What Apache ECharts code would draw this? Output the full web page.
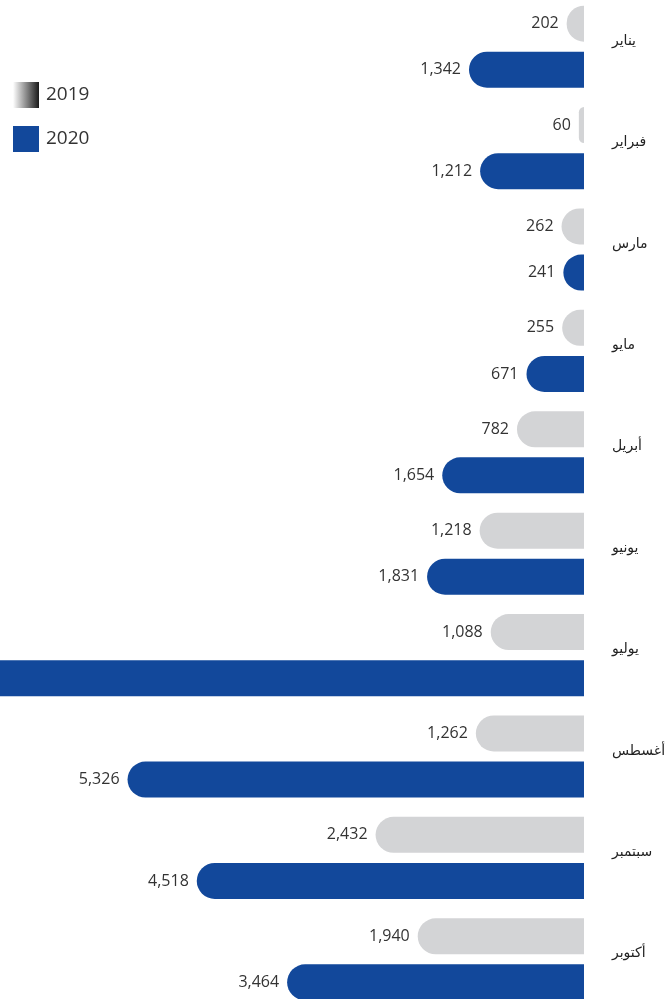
<!DOCTYPE html>
<html>
<head>
<meta charset="utf-8">
<script src="https://cdn.jsdelivr.net/npm/echarts@6/dist/echarts.min.js"></script>
<style>html,body{margin:0;padding:0;background:#fff}#c{width:669px;height:999px}</style>
</head>
<body>
<div id="c"></div>
<script>
var categories = ['يناير', 'فبراير', 'مارس', 'مايو', 'أبريل', 'يونيو', 'يوليو', 'أغسطس', 'سبتمبر', 'أكتوبر'];
var values2019 = [202, 60, 262, 255, 782, 1218, 1088, 1262, 2432, 1940];
var values2020 = [1342, 1212, 241, 671, 1654, 1831, 7200, 5326, 4518, 3464];
var seriesNames = ['2019', '2020'];

var axisMax = 6814;
function toData(arr) {
  return arr.map(function (v) {
    return v > axisMax ? { value: v, itemStyle: { borderRadius: 0 } } : v;
  });
}

var chart = echarts.init(document.getElementById('c'));
var font = '"Open Sans", "Noto Sans", "DejaVu Sans", sans-serif';
var blue = '#12489b';
var grey = '#d3d4d6';
var labelCfg = { show: true, position: 'left', distance: 8, fontSize: 16, color: '#333', fontFamily: font,
  formatter: function (p) { return p.value.toLocaleString('en-US'); } };
chart.setOption({
  animation: false,
  textStyle: { fontFamily: font },
  legend: {
    orient: 'vertical',
    left: 8,
    top: 77,
    itemWidth: 26,
    itemHeight: 26,
    itemGap: 18,
    icon: 'rect',
    textStyle: { fontSize: 19, color: '#333', padding: [3, 0, 0, 2], fontFamily: font },
    data: [
      { name: seriesNames[0], itemStyle: { color: new echarts.graphic.LinearGradient(0, 0, 1, 0, [{ offset: 0, color: '#ffffff' }, { offset: 1, color: '#1a1a1a' }]) } },
      { name: seriesNames[1], itemStyle: { color: blue } }
    ]
  },
  grid: { left: 0, right: 85, top: -4, height: 1014, containLabel: false, outerBoundsMode: 'none' },
  xAxis: {
    type: 'value', inverse: true, min: 0, max: axisMax,
    axisLine: { show: false }, axisTick: { show: false }, axisLabel: { show: false }, splitLine: { show: false }
  },
  yAxis: {
    type: 'category', inverse: true, position: 'right', data: categories,
    axisLine: { show: false }, axisTick: { show: false },
    axisLabel: {
      margin: 28, align: 'left',
      formatter: function (v) { return '{m|' + v + '}'; },
      rich: { m: { fontSize: 14, color: '#222', fontFamily: '"DejaVu Sans", sans-serif', padding: [0, 0, 11, 0] } }
    }
  },
  series: [
    {
      name: seriesNames[0], type: 'bar', data: toData(values2019), barWidth: 36, barGap: '28%',
      itemStyle: { color: grey, borderRadius: [18, 0, 0, 18] },
      label: labelCfg
    },
    {
      name: seriesNames[1], type: 'bar', data: toData(values2020), barWidth: 36, barGap: '28%',
      itemStyle: { color: blue, borderRadius: [18, 0, 0, 18] },
      label: labelCfg
    }
  ]
});
</script>
</body>
</html>
